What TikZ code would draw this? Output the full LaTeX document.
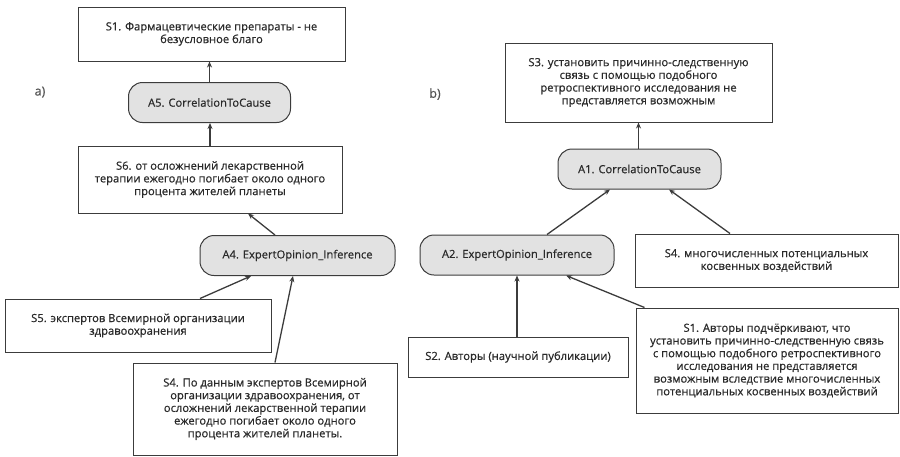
\documentclass[tikz,border=0pt]{standalone}
\usepackage{fontspec}
\setmainfont{Open Sans}[FakeBold=0.6]
\usetikzlibrary{arrows.meta}
\definecolor{ink}{HTML}{2A2A2A}
\definecolor{edge}{HTML}{3C3C3C}
\definecolor{schemefill}{HTML}{E2E2E2}
\tikzset{
  txt/.style={font=\fontsize{11.2}{12.7}\selectfont, text=ink, align=center, inner sep=0pt},
  stmt/.style={txt, draw=edge, line width=1pt, fill=white},
  scheme/.style={txt, draw=edge, line width=1pt, fill=schemefill, rounded corners=14pt,
                 minimum height=40pt},
  arr/.style={draw=edge, line width=1.3pt, -{Stealth[length=6pt,width=5pt]}},
  tag/.style={font=\fontsize{12.5}{14}\selectfont, text=ink!80}
}
\begin{document}
\begin{tikzpicture}[x=1pt,y=-1pt]
\useasboundingbox (0,0) rectangle (900,456);

% ---- a) ----
\node[tag] (la) at (40,92) {a)};
\node[stmt, minimum width=267pt, minimum height=54pt] (aS1) at (211.5,34)
  {S1. Фармацевтические препараты - не\\безусловное благо};
\node[scheme, minimum width=162pt] (aA5) at (209.5,102.5) {A5. CorrelationToCause};
\node[stmt, minimum width=264pt, minimum height=67pt] (aS6) at (210,179.5)
  {S6. от осложнений лекарственной\\терапии ежегодно погибает около одного\\процента жителей планеты};
\node[scheme, minimum width=195pt] (aA4) at (297.5,255.5) {A4. ExpertOpinion\_Inference};
\node[stmt, minimum width=266pt, minimum height=53pt] (aS5) at (138,325.5)
  {S5. экспертов Всемирной организации\\здравоохранения};
\node[stmt, minimum width=264pt, minimum height=92pt] (aS4) at (265,409)
  {S4. По данным экспертов Всемирной\\организации здравоохранения, от\\осложнений лекарственной терапии\\ежегодно погибает около одного\\процента жителей планеты.};

\draw[arr] (aA5.north) -- (aA5.north |- aS1.south);
\draw[arr] (aS6.north) -- (aS6.north |- aA5.south);
\draw[arr] ([xshift=-22.5pt]aA4.north) -- ([xshift=38pt]aS6.south);
\draw[arr] ([xshift=62pt]aS5.north) -- ([xshift=-46.5pt]aA4.south);
\draw[arr] ([xshift=10pt]aS4.north) -- ([xshift=-4.5pt]aA4.south);

% ---- b) ----
\node[tag] (lb) at (435,94) {b)};
\node[stmt, minimum width=267pt, minimum height=79pt] (bS3) at (638.5,82.5)
  {S3. установить причинно-следственную\\связь с помощью подобного\\ретроспективного исследования не\\представляется возможным};
\node[scheme, minimum width=163pt] (bA1) at (639.5,169) {A1. CorrelationToCause};
\node[scheme, minimum width=194pt] (bA2) at (517,255) {A2. ExpertOpinion\_Inference};
\node[stmt, minimum width=263pt, minimum height=53pt] (bS4) at (766.5,260.5)
  {S4. многочисленных потенциальных\\косвенных воздействий};
\node[stmt, minimum width=220pt, minimum height=40pt] (bS2) at (518,357)
  {S2. Авторы (научной публикации)};
\node[stmt, minimum width=262pt, minimum height=105pt] (bS1) at (767,360.5)
  {S1. Авторы подчёркивают, что\\установить причинно-следственную связь\\с помощью подобного ретроспективного\\исследования не представляется\\возможным вследствие многочисленных\\потенциальных косвенных воздействий};

\draw[arr] (bA1.north -| bS3.south) -- (bS3.south);
\draw[arr] ([xshift=30pt]bA2.north) -- ([xshift=-29.5pt]bA1.south);
\draw[arr] ([xshift=-36.5pt]bS4.north) -- ([xshift=29.5pt]bA1.south);
\draw[arr] ([xshift=-1pt]bS2.north) -- (bA2.south);
\draw[arr] ([xshift=9pt]bS1.north west) -- ([xshift=49pt]bA2.south);
\end{tikzpicture}
\end{document}
